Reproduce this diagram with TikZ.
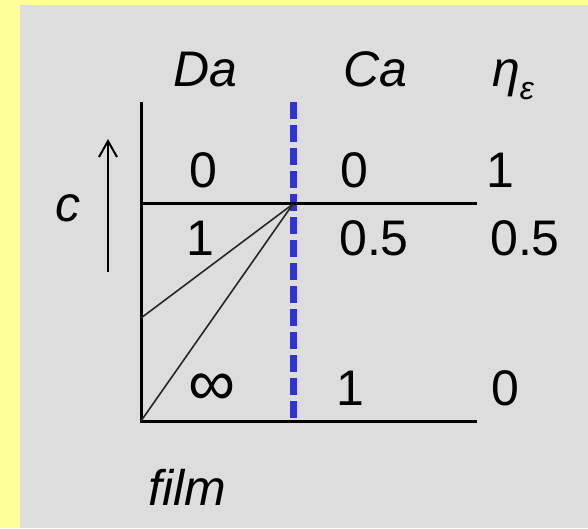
\documentclass[tikz,border=0pt]{standalone}
\usepackage{fontspec}
\setmainfont{Liberation Sans}
\usepackage{xcolor}
\usetikzlibrary{arrows.meta}
\definecolor{paleyellow}{HTML}{FFFF99}
\definecolor{panelgray}{HTML}{DDDDDD}
\definecolor{filmblue}{HTML}{3333CC}
\tikzset{
  axisline/.style  = {line width=3pt, black},
  slantline/.style = {line width=1.6pt, black!85},
  boundary/.style  = {line width=7pt, filmblue, dash pattern=on 17pt off 6pt},
  uparrow/.style   = {-{Straight Barb[length=16pt,width=18pt,line width=2pt]}, line width=2.2pt},
  lab/.style       = {font=\fontsize{50}{60}\selectfont\itshape, inner sep=0pt, anchor=base},
  val/.style       = {font=\fontsize{50}{60}\selectfont, inner sep=0pt, anchor=base},
}
\begin{document}
\begin{tikzpicture}[x=1pt,y=1pt]
\fill[paleyellow] (0,0) rectangle (588,528);
\fill[panelgray] (20,0) rectangle (588,523);
\useasboundingbox (0,0) rectangle (588,528);
% frame corners
\coordinate (top)   at (141,426);
\coordinate (orig)  at (141,107);
\coordinate (lend)  at (141,324);
\coordinate (rtop)  at (477,324);
\coordinate (rbot)  at (477,107);
\coordinate (btop)  at (293,426);
\coordinate (bbot)  at (293,107);
\coordinate (pivot) at (293,324);
\coordinate (mid)   at (141,210);
\coordinate (cbot)  at (108,256);
\coordinate (ctop)  at (108,389);
% column heads
\node[lab] (da)  at (205,441) {Da};
\node[lab] (ca)  at (375,441) {Ca};
\node[lab, anchor=base west] (eta) at (492,441) {η\raisebox{-13pt}{\fontsize{32}{36}\selectfont ε}};
% values
\node[val] (da0)  at (203,340) {0};
\node[val] (ca0)  at (354,340) {0};
\node[val] (eta1) at (500,340) {1};
\node[val] (da1)  at (200,273) {1};
\node[val] (ca5)  at (374,273) {0.5};
\node[val] (eta5) at (525,273) {0.5};
\node[font=\fontsize{66}{70}\selectfont, inner sep=0pt] (dainf) at (212,138) {∞};
\node[val] (ca1)  at (350,123) {1};
\node[val] (eta0) at (505,123) {0};
\node[lab] (c)    at (68,306) {c};
\node[lab] (film) at (187,23) {film};
% lines
\draw[boundary] (btop) -- (bbot);
\draw[axisline] (top) -- (orig) -- (rbot);
\draw[axisline] (lend) -- (rtop);
\draw[slantline] (pivot) -- (mid);
\draw[slantline] (pivot) -- (orig);
\draw[uparrow] (cbot) -- (ctop);
\end{tikzpicture}
\end{document}
